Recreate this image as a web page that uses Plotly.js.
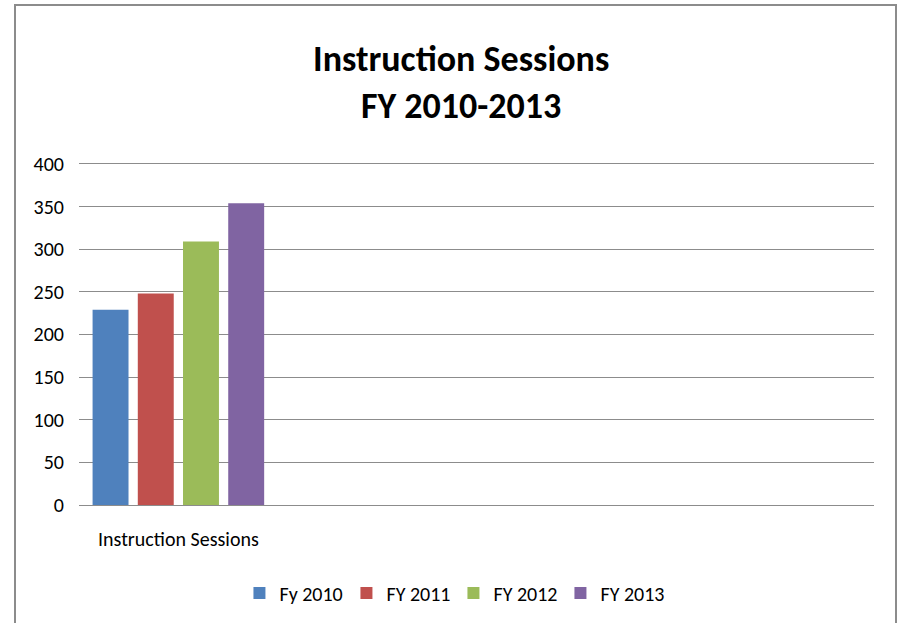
<!DOCTYPE html>
<html>
<head>
<meta charset="utf-8">
<script src="https://cdn.plot.ly/plotly-3.0.1.min.js"></script>
<style>
html, body { margin: 0; padding: 0; background: #fff; }
#wrap { position: relative; width: 899px; height: 623px; overflow: hidden; }
#chart { position: absolute; left: 0; top: 0; width: 899px; height: 623px; }
#frame { position: absolute; left: 14px; top: 4px; width: 879px; height: 640px;
         border: 2px solid #8c8c8c; border-bottom: none; pointer-events: none; }
</style>
</head>
<body>
<div id="wrap">
  <div id="chart"></div>
  <div id="frame"></div>
</div>
<script>
// ---- data ----
const categories = ["Instruction Sessions"];
const emptySlots = [" ", "  ", "   "];
const seriesNames = ["Fy 2010", "FY 2011", "FY 2012", "FY 2013"];
const fy2010 = [229];
const fy2011 = [248];
const fy2012 = [309];
const fy2013 = [354];
const yTicks = [0, 50, 100, 150, 200, 250, 300, 350, 400];

const colors = ["#4F81BD", "#C0504D", "#9BBB59", "#8064A2"];
const FONT = "Carlito, 'Liberation Sans Narrow', Lato, 'Open Sans', sans-serif";

const values = [fy2010, fy2011, fy2012, fy2013];
const traces = seriesNames.map((name, i) => ({
  type: "bar",
  name: name,
  x: categories,
  y: values[i],
  marker: { color: colors[i], line: { width: 0 } },
  hoverinfo: "x+y+name"
}));

const layout = {
  width: 899,
  height: 623,
  paper_bgcolor: "#ffffff",
  plot_bgcolor: "#ffffff",
  font: { family: FONT, size: 20, color: "#000000" },
  margin: { l: 79, r: 25, t: 160, b: 117, pad: 0 },
  title: {
    text: "<b>Instruction Sessions<br>FY 2010-2013</b>",
    font: { family: FONT, size: 36, color: "#000000" },
    x: 0.513, xref: "container", xanchor: "center",
    y: 1 - 71 / 623, yref: "container", yanchor: "middle"
  },
  barmode: "group",
  bargap: 0.09,
  bargroupgap: 0.205,
  xaxis: {
    type: "category",
    categoryorder: "array",
    categoryarray: categories.concat(emptySlots),
    range: [-0.5, 3.5],
    showgrid: false,
    showline: true,
    linecolor: "#8c8c8c",
    linewidth: 1,
    ticks: "",
    ticklabelstandoff: 16,
    tickfont: { family: FONT, size: 20, color: "#000000" },
    fixedrange: true,
    zeroline: false
  },
  yaxis: {
    range: [0, 400 * 346 / 342],
    tickvals: yTicks,
    ticktext: yTicks.map(String),
    showgrid: true,
    gridcolor: "#8c8c8c",
    gridwidth: 1,
    zeroline: false,
    showline: false,
    ticks: "",
    ticklabelstandoff: 14,
    tickfont: { family: FONT, size: 20, color: "#000000" },
    fixedrange: true
  },
  showlegend: true,
  legend: {
    orientation: "h",
    x: 0.471, xref: "paper", xanchor: "center",
    y: (506 - 592) / 342, yref: "paper", yanchor: "middle",
    font: { family: FONT, size: 20, color: "#000000" },
    entrywidth: 62,
    entrywidthmode: "pixels",
    bgcolor: "rgba(0,0,0,0)",
    traceorder: "normal",
    itemclick: false,
    itemdoubleclick: false
  }
};

Plotly.newPlot("chart", traces, layout, { displayModeBar: false });
</script>
</body>
</html>
